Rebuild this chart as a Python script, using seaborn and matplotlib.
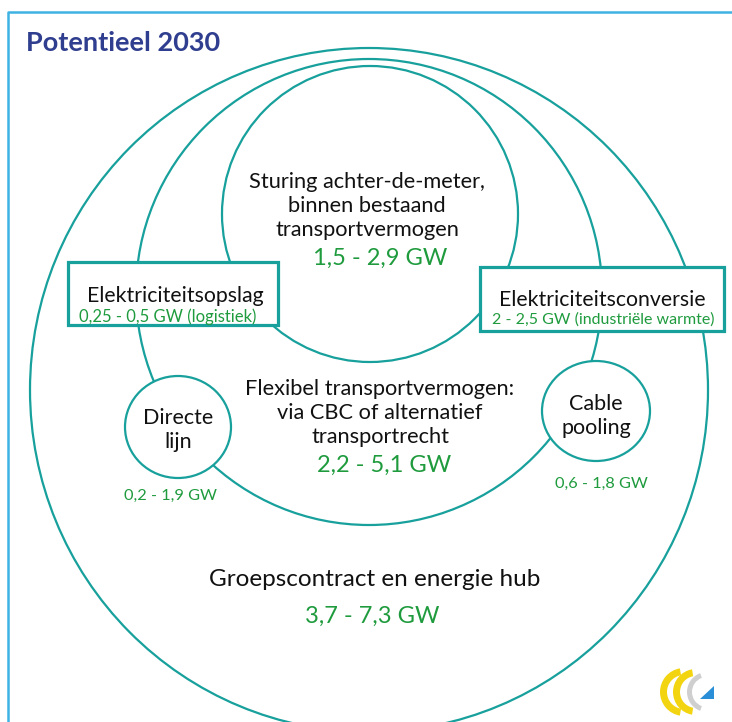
import matplotlib
matplotlib.use('Agg')
import matplotlib.pyplot as plt
import seaborn as sns
from matplotlib.patches import Ellipse, Rectangle, Polygon, Wedge

sns.set_theme(style='white')
plt.rcParams['font.family'] = ['Lato', 'DejaVu Sans']

# --- content ---
title = 'Potentieel 2030'
zone_labels = [
    'Groepscontract en energie hub',
    'Flexibel transportvermogen:\nvia CBC of alternatief\ntransportrecht',
    'Sturing achter-de-meter,\nbinnen bestaand\ntransportvermogen',
    'Directe\nlijn',
    'Cable\npooling',
]
zone_ranges = ['3,7 - 7,3 GW', '2,2 - 5,1 GW', '1,5 - 2,9 GW', '0,2 - 1,9 GW', '0,6 - 1,8 GW']
box_labels = ['Elektriciteitsopslag', 'Elektriciteitsconversie']
box_ranges = ['0,25 - 0,5 GW (logistiek)', '2 - 2,5 GW (industriële warmte)']

# --- layout (pixels) ---
circles = [(369, 390, 678, 684), (369, 292, 466, 466), (370, 214, 296, 296),
           (178, 427, 106, 102), (596, 411, 108, 100)]
label_pos = [(375, 580), (380, 413), (367, 206), (178, 430), (596, 416)]
label_size = [17.5, 15.7, 15.7, 15.5, 15.5]
range_pos = [(372, 616), (384, 465), (380, 258), (171, 496), (601, 484)]
range_size = [17, 17, 17, 11.8, 11.8]
boxes = [(68, 262, 210, 63), (480, 267, 244, 64)]
box_label_pos = [(175, 296), (602, 300)]
box_range_pos = [(168, 317), (603, 320)]

teal = '#17a09c'
green = '#1f9b3e'
navy = '#2f3e8e'

fig = plt.figure(figsize=(7.32, 7.22), dpi=100)
ax = fig.add_axes([0, 0, 1, 1])
ax.set_xlim(0, 732)
ax.set_ylim(722, 0)
ax.axis('off')

# frame
ax.plot([8, 8, 740], [730, 12, 12], color='#3fb2e4', lw=1.8, solid_capstyle='butt')

ax.text(26, 43, title, fontsize=19.5, fontweight='bold', color=navy, va='center', ha='left')

for (cx, cy, w, h) in circles[:3]:
    ax.add_patch(Ellipse((cx, cy), w, h, fill=False, ec=teal, lw=1.6, zorder=2))
# small circles white fill to hide lines behind
for (cx, cy, w, h) in circles[3:]:
    ax.add_patch(Ellipse((cx, cy), w, h, fc='white', ec=teal, lw=1.6, zorder=3))

for txt, (x, y), fs in zip(zone_labels, label_pos, label_size):
    ax.text(x, y, txt, fontsize=fs, ha='center', va='center', color='#111111',
            linespacing=1.25, zorder=5)
for txt, (x, y), fs in zip(zone_ranges, range_pos, range_size):
    ax.text(x, y, txt, fontsize=fs, ha='center', va='center', color=green, zorder=5)

for (x, y, w, h) in boxes:
    ax.add_patch(Rectangle((x, y), w, h, fc='white', ec=teal, lw=2.3, zorder=4))
for txt, (x, y) in zip(box_labels, box_label_pos):
    ax.text(x, y, txt, fontsize=15.3, ha='center', va='center', color='#111111', zorder=5)
for txt, (x, y), fs in zip(box_ranges, box_range_pos, [12, 11.5]):
    ax.text(x, y, txt, fontsize=fs, ha='center', va='center', color=green, zorder=5)

# logo bottom right
ax.add_patch(Wedge((684, 692), 24, 100, 260, width=7, fc='#f2d410', ec='none', zorder=6))
ax.add_patch(Wedge((696, 692), 23, 100, 260, width=7, fc='#f2d410', ec='none', zorder=6))
ax.add_patch(Wedge((707, 692), 20, 110, 250, width=5, fc='#cfcfcf', ec='none', zorder=6))
ax.add_patch(Polygon([[700, 699], [714, 686], [714, 699]], fc='#2a8fd6', ec='none', zorder=6))

fig.savefig('out.png', dpi=100)
